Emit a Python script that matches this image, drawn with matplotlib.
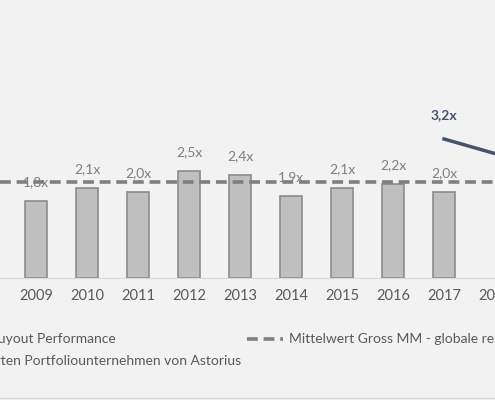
import matplotlib
matplotlib.use("Agg")
import matplotlib.pyplot as plt

years = [2009, 2010, 2011, 2012, 2013, 2014, 2015, 2016, 2017]
bar_values = [1.8, 2.1, 2.0, 2.5, 2.4, 1.9, 2.1, 2.2, 2.0]
bar_labels = ["1,8x", "2,1x", "2,0x", "2,5x", "2,4x", "1,9x", "2,1x", "2,2x", "2,0x"]
line_years = [2017, 2018]
line_values = [3.24, 2.9]
mean_value = 2.24

plt.rcParams["font.family"] = ["Lato", "DejaVu Sans"]
BG = "#f2f2f2"

fig = plt.figure(figsize=(4.95, 4.0), dpi=100, facecolor=BG)
ax = fig.add_axes([0, 0.305, 1, 0.695], facecolor=BG)
ax.set_xlim(2008.29, 2017.76)
ax.set_ylim(0, 6.48)

ax.bar(years, bar_values, width=0.42, color="#bfbfbf", edgecolor="#8c8c8c", linewidth=1.2, zorder=2)
ax.axhline(mean_value, color="#7f7f7f", linestyle=(0, (3, 1.6)), linewidth=2.6, zorder=3)
ax.plot(line_years, line_values, color="#44546a", linewidth=2.5, zorder=4)

for x, v, lab in zip(years, bar_values, bar_labels):
    ax.text(x, v + 0.3, lab, ha="center", va="bottom", fontsize=10, color="#7f7f7f")
ax.text(2017, 3.65, "3,2x", ha="center", va="bottom", fontsize=10, color="#44546a", fontweight="bold")

ax.set_xticks(years + [2018])
ax.set_xticklabels([str(y) for y in years] + ["2018"], fontsize=10.5, color="#595959")
ax.tick_params(axis="x", length=0, pad=8)
ax.set_yticks([])
for s in ["top", "left", "right"]:
    ax.spines[s].set_visible(False)
ax.spines["bottom"].set_color("#d9d9d9")

# legend (partially outside the visible area, as in the cropped original)
fig.text(116 / 495, 1 - 339 / 400, "Gross MM - globale Buyout Performance", ha="right", va="center",
         fontsize=10, color="#595959")
fig.text(241 / 495, 1 - 361 / 400, "Gross MM der realisierten Portfoliounternehmen von Astorius",
         ha="right", va="center", fontsize=10, color="#595959")
fig.add_artist(plt.Line2D([247 / 495, 283 / 495], [1 - 339 / 400] * 2, color="#7f7f7f",
                          linestyle=(0, (3, 1.6)), linewidth=2.6))
fig.text(289 / 495, 1 - 339 / 400, "Mittelwert Gross MM - globale realisierte Buyout Performance",
         ha="left", va="center", fontsize=10, color="#595959")
fig.add_artist(plt.Line2D([0, 1], [0.004, 0.004], color="#d9d9d9", linewidth=1))

fig.savefig("out.png", dpi=100, facecolor=BG)
